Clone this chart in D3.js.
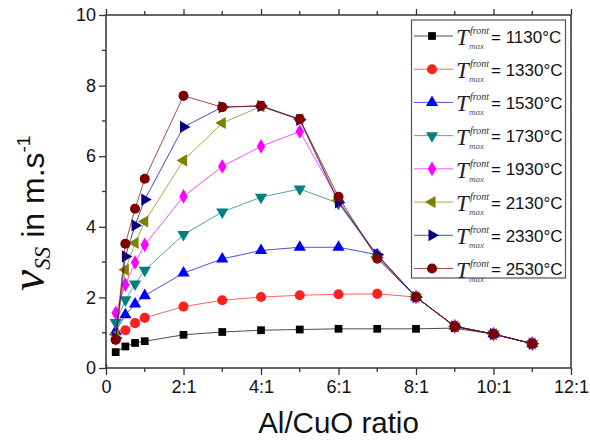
<!DOCTYPE html>
<html lang="en">
  <head>
    <meta charset="UTF-8" />
    <title>vss vs Al/CuO</title>
    <script src="https://cdn.jsdelivr.net/npm/d3@7"></script>
    <style>
      body { margin: 0; background: #fff; }
      svg { display: block; }
    </style>
  </head>
  <body>
    <svg width="590" height="441"></svg>
  </body>

  <script>
    // data
    var ratios = [0.25, 0.5, 0.75, 1, 2, 3, 4, 5, 6, 7, 8, 9, 10, 11];
    var temps = [1130, 1330, 1530, 1730, 1930, 2130, 2330, 2530];
    var v1130 = [0.45, 0.61, 0.71, 0.76, 0.94, 1.02, 1.07, 1.09, 1.11, 1.11, 1.11, 1.13, 0.96, 0.69];
    var v1330 = [0.80, 1.07, 1.27, 1.42, 1.74, 1.92, 2.01, 2.06, 2.09, 2.10, 2.01, 1.18, 0.96, 0.69];
    var v1530 = [1.04, 1.51, 1.81, 2.05, 2.69, 3.09, 3.33, 3.42, 3.42, 3.21, 2.01, 1.18, 0.96, 0.69];
    var v1730 = [1.29, 1.93, 2.38, 2.77, 3.78, 4.42, 4.84, 5.07, 4.67, 3.15, 2.01, 1.18, 0.96, 0.69];
    var v1930 = [1.56, 2.36, 2.99, 3.49, 4.86, 5.71, 6.28, 6.70, 4.75, 3.15, 2.01, 1.18, 0.96, 0.69];
    var v2130 = [0.95, 2.78, 3.54, 4.15, 5.88, 6.94, 7.41, 7.05, 4.75, 3.15, 2.01, 1.18, 0.96, 0.69];
    var v2330 = [0.85, 3.16, 4.04, 4.77, 6.83, 7.39, 7.42, 7.03, 4.69, 3.21, 2.01, 1.18, 0.96, 0.69];
    var v2530 = [0.80, 3.52, 4.51, 5.36, 7.71, 7.39, 7.43, 7.05, 4.85, 3.10, 2.01, 1.18, 0.96, 0.69];
    var xTickLabels = ['0', '2:1', '4:1', '6:1', '8:1', '10:1', '12:1'];

    var values = [v1130, v1330, v1530, v1730, v1930, v2130, v2330, v2530];
    var colors = ['#000000', '#ff2020', '#0000ff', '#008080', '#ff00ff', '#808000', '#000080', '#800000'];
    var shapes = ['square', 'circle', 'up', 'down', 'diamond', 'left', 'right', 'circle'];

    var svg = d3.select('svg');
    var pLeft = 106, pRight = 571, pTop = 15, pBottom = 368;

    var x = d3.scaleLinear().domain([0, 12]).range([pLeft, pRight]);
    var y = d3.scaleLinear().domain([0, 10]).range([pBottom, pTop]);

    var axisColor = '#333';
    var sans = '"Liberation Sans", Arial, sans-serif';
    var serif = '"Liberation Serif", "Times New Roman", serif';

    // frame
    svg.append('rect')
      .attr('x', pLeft).attr('y', pTop)
      .attr('width', pRight - pLeft).attr('height', pBottom - pTop)
      .attr('fill', 'none').attr('stroke', axisColor).attr('stroke-width', 1.5);

    // bottom axis
    var gx = svg.append('g').attr('transform', 'translate(0,' + pBottom + ')');
    gx.call(d3.axisBottom(x).tickValues(d3.range(0, 13, 2)).tickSize(7).tickPadding(5)
      .tickFormat(function (d, i) { return xTickLabels[i]; }));
    gx.selectAll('.tick').filter(function (d) { return d === 0; }).select('line').attr('y1', -4);
    gx.append('g').selectAll('line').data(d3.range(1, 12, 2)).enter().append('line')
      .attr('x1', x).attr('x2', x).attr('y1', 0).attr('y2', 4);

    // top axis (ticks only)
    var gt = svg.append('g').attr('transform', 'translate(0,' + pTop + ')');
    gt.call(d3.axisTop(x).tickValues(d3.range(0, 13, 2)).tickSize(6).tickFormat(''));
    gt.append('g').selectAll('line').data(d3.range(1, 12, 2)).enter().append('line')
      .attr('x1', x).attr('x2', x).attr('y1', 0).attr('y2', -4);

    // left axis
    var gy = svg.append('g').attr('transform', 'translate(' + pLeft + ',0)');
    gy.call(d3.axisLeft(y).tickValues(d3.range(0, 11, 2)).tickSize(7).tickPadding(3));
    gy.append('g').selectAll('line').data(d3.range(1, 10, 2)).enter().append('line')
      .attr('y1', y).attr('y2', y).attr('x1', 0).attr('x2', -4);

    [gx, gt, gy].forEach(function (g) {
      g.attr('font-family', sans).attr('font-size', 18);
      g.select('.domain').remove();
      g.selectAll('line').attr('stroke', axisColor).attr('stroke-width', 1.3);
      g.selectAll('text').attr('fill', '#111');
    });

    // axis titles
    svg.append('text')
      .attr('x', (pLeft + pRight) / 2).attr('y', 433)
      .attr('text-anchor', 'middle')
      .attr('font-family', sans).attr('font-size', 29.5).attr('fill', '#111')
      .text('Al/CuO ratio');

    // y title starts at the bottom (nu) and runs upward
    var yl = svg.append('text')
      .attr('transform', 'translate(44,291) rotate(-90)')
      .attr('text-anchor', 'start').attr('fill', '#111');
    yl.append('tspan').attr('font-family', serif).attr('font-style', 'italic').attr('font-size', 48).text('ν');
    yl.append('tspan').attr('font-family', serif).attr('font-style', 'italic').attr('font-size', 23).attr('dy', 6).text('SS');
    yl.append('tspan').attr('font-family', sans).attr('font-size', 32).attr('dy', -6).text(' in m.s');
    yl.append('tspan').attr('font-family', sans).attr('font-size', 19).attr('dy', -14).text('-1');

    // markers
    function marker(sel, shape, color) {
      var type = d3.symbolCircle, size = 80, rot = 0;
      if (shape === 'square') { type = d3.symbolSquare; size = 60; }
      if (shape === 'diamond') { type = d3.symbolDiamond; size = 62; }
      if (shape === 'up') { type = d3.symbolTriangle; size = 64; }
      if (shape === 'down') { type = d3.symbolTriangle; size = 64; rot = 180; }
      if (shape === 'left') { type = d3.symbolTriangle; size = 64; rot = -90; }
      if (shape === 'right') { type = d3.symbolTriangle; size = 64; rot = 90; }
      sel.append('path')
        .attr('d', d3.symbol().type(type).size(size))
        .attr('transform', 'rotate(' + rot + ')')
        .attr('fill', color);
    }

    var line = d3.line()
      .x(function (d) { return x(d[0]); })
      .y(function (d) { return y(d[1]); });

    values.forEach(function (vals, k) {
      var pts = ratios.map(function (r, i) { return [r, vals[i]]; });
      var g = svg.append('g');
      g.append('path').datum(pts)
        .attr('d', line)
        .attr('fill', 'none').attr('stroke', colors[k]).attr('stroke-width', 1).attr('stroke-opacity', 0.7);
      g.selectAll('g.pt').data(pts).enter().append('g').attr('class', 'pt')
        .attr('transform', function (d) { return 'translate(' + x(d[0]) + ',' + y(d[1]) + ')'; })
        .each(function () { marker(d3.select(this), shapes[k], colors[k]); });
    });

    // legend
    var lg = svg.append('g');
    lg.append('rect')
      .attr('x', 411.5).attr('y', 20).attr('width', 154).attr('height', 258)
      .attr('fill', '#fff').attr('stroke', '#555').attr('stroke-width', 1.2);
    var rowY = d3.scaleLinear().domain([0, 7]).range([36, 268.5]);
    temps.forEach(function (t, k) {
      var cy = rowY(k);
      var row = lg.append('g');
      row.append('line').attr('x1', 414).attr('x2', 453).attr('y1', cy).attr('y2', cy)
        .attr('stroke', colors[k]).attr('stroke-width', 1).attr('stroke-opacity', 0.7);
      var m = row.append('g').attr('transform', 'translate(432,' + cy + ')');
      marker(m, shapes[k], colors[k]);
      row.append('text').attr('x', 456).attr('y', cy + 9)
        .attr('font-family', serif).attr('font-style', 'italic').attr('font-size', 23).attr('fill', '#222')
        .text('T');
      row.append('text').attr('x', 470).attr('y', cy - 2)
        .attr('font-family', serif).attr('font-style', 'italic').attr('font-size', 10).attr('fill', '#333')
        .text('front');
      row.append('text').attr('x', 469).attr('y', cy + 13)
        .attr('font-family', serif).attr('font-style', 'italic').attr('font-size', 9).attr('fill', '#555')
        .text('max');
      row.append('text').attr('x', 491).attr('y', cy + 6.5)
        .attr('font-family', sans).attr('font-size', 17).attr('fill', '#111')
        .text('= ' + t + '°C');
    });
  </script>
</html>
